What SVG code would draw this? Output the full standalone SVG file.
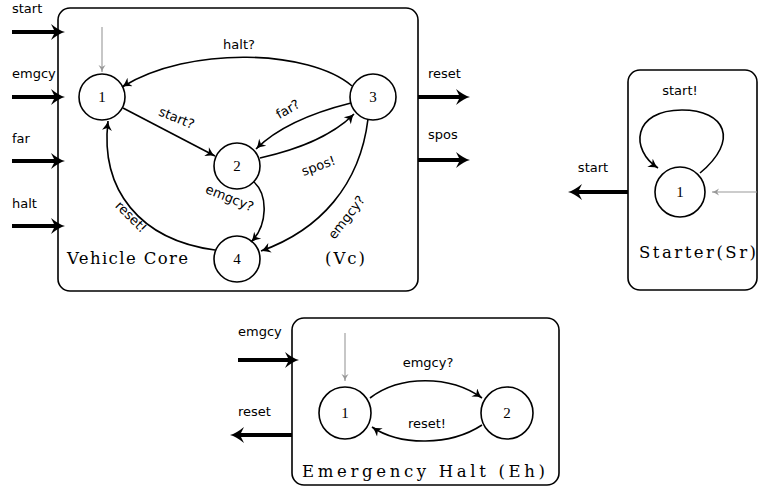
<svg xmlns="http://www.w3.org/2000/svg" width="758" height="488" viewBox="0 0 758 488">
<style>
.box{fill:#fff;stroke:#000;stroke-width:1.6}
.st{fill:#fff;stroke:#000;stroke-width:1.6}
.e{fill:none;stroke:#000;stroke-width:1.6;marker-end:url(#ah)}
.g{fill:none;stroke:#999;stroke-width:1.1;marker-end:url(#ag)}
.io{fill:none;stroke:#000;stroke-width:4;marker-end:url(#at)}
.l{font-family:"DejaVu Sans",sans-serif;font-size:13px;fill:#000}
.n{font-family:"Liberation Serif","DejaVu Serif",serif;font-size:15px;fill:#000;text-anchor:middle}
.t{font-family:"DejaVu Serif","Liberation Serif",serif;font-size:16.5px;fill:#000}
</style>
<defs>
<marker id="ah" viewBox="-10 -5 11 10" refX="0" refY="0" markerWidth="11" markerHeight="10" markerUnits="userSpaceOnUse" orient="auto"><path d="M-9.5,-5 Q-4,-1 0,0 Q-4,1 -9.5,5 L-7,0 Z" fill="#000"/></marker>
<marker id="ag" viewBox="-8 -4 9 8" refX="0" refY="0" markerWidth="9" markerHeight="8" markerUnits="userSpaceOnUse" orient="auto"><path d="M-7,-3.5 Q-3,-0.7 0,0 Q-3,0.7 -7,3.5 L-5,0 Z" fill="#999"/></marker>
<marker id="at" viewBox="-15 -9 16 18" refX="-8" refY="0" markerWidth="16" markerHeight="18" markerUnits="userSpaceOnUse" orient="auto"><path d="M-14,-8 Q-6,-1.5 0,0 Q-6,1.5 -14,8 L-10,0 Z" fill="#000"/></marker>
</defs>

<g id="vc-box">
<rect class="box" x="58" y="8" width="360" height="283" rx="12"/>
<text class="t" x="67" y="264" textLength="121" lengthAdjust="spacing">Vehicle Core</text>
<text class="t" x="325" y="264" textLength="40" lengthAdjust="spacing">(Vc)</text>
</g>
<g id="vc1"><circle class="st" cx="102" cy="97" r="23"/><text class="n" x="102" y="102">1</text></g>
<g id="vc2"><circle class="st" cx="237" cy="166" r="23"/><text class="n" x="237" y="171">2</text></g>
<g id="vc3"><circle class="st" cx="373" cy="97" r="23"/><text class="n" x="373" y="102">3</text></g>
<g id="vc4"><circle class="st" cx="237" cy="259" r="23"/><text class="n" x="237" y="264">4</text></g>

<g id="sr-box">
<rect class="box" x="628" y="70" width="129" height="220" rx="12"/>
<text class="t" x="639" y="258" textLength="117" lengthAdjust="spacing">Starter(Sr)</text>
</g>
<g id="sr1"><circle class="st" cx="680" cy="192" r="25"/><text class="n" x="680" y="197">1</text></g>

<g id="eh-box">
<rect class="box" x="292" y="318" width="267" height="167" rx="12"/>
<text class="t" x="302" y="477" textLength="243" lengthAdjust="spacing">Emergency Halt (Eh)</text>
</g>
<g id="eh1"><circle class="st" cx="345" cy="413" r="26"/><text class="n" x="345" y="418">1</text></g>
<g id="eh2"><circle class="st" cx="507" cy="413" r="26"/><text class="n" x="507" y="418">2</text></g>

<g id="connectors">
<line class="io" x1="12" y1="32" x2="57" y2="32"/>
<line class="io" x1="12" y1="97" x2="57" y2="97"/>
<line class="io" x1="12" y1="161" x2="57" y2="161"/>
<line class="io" x1="12" y1="226" x2="57" y2="226"/>
<line class="io" x1="418" y1="97" x2="462" y2="97"/>
<line class="io" x1="418" y1="160" x2="462" y2="160"/>
<line class="g" x1="102" y1="27" x2="102" y2="72"/>
<path class="e" d="M352,86 C310,50 190,45 122,87"/>
<path class="e" d="M123,108 L215,156"/>
<path class="e" d="M351,103 C315,112 280,125 256,149"/>
<path class="e" d="M260,158 C295,150 330,138 354,114"/>
<path class="e" d="M254,182 C268,195 268,225 251,242"/>
<path class="e" d="M368,119 C360,185 320,230 261,251"/>
<path class="e" d="M215,250 C140,240 100,190 108,121"/>
<line class="g" x1="757" y1="192" x2="712" y2="192"/>
<path class="e" d="M700,173 C740,140 725,110 682,110 C632,110 630,150 658,168"/>
<line class="io" x1="628" y1="192" x2="576" y2="192"/>
<line class="io" x1="238" y1="360" x2="291" y2="360"/>
<line class="io" x1="292" y1="435" x2="238" y2="435"/>
<line class="g" x1="345" y1="333" x2="345" y2="381"/>
<path class="e" d="M370,398 C400,375 450,375 482,398"/>
<path class="e" d="M482,425 C450,446 400,446 372,427"/>
</g>

<g id="labels">
<text class="l" x="12" y="13">start</text>
<text class="l" x="12" y="78">emgcy</text>
<text class="l" x="12" y="143">far</text>
<text class="l" x="12" y="208">halt</text>
<text class="l" x="428" y="78">reset</text>
<text class="l" x="428" y="139">spos</text>
<text class="l" x="239" y="49" text-anchor="middle">halt?</text>
<text class="l" text-anchor="middle" transform="translate(175,122) rotate(22)">start?</text>
<text class="l" text-anchor="middle" transform="translate(290,113) rotate(-30)">far?</text>
<text class="l" text-anchor="middle" transform="translate(320,170) rotate(-20)">spos!</text>
<text class="l" text-anchor="middle" transform="translate(228,202) rotate(22)">emgcy?</text>
<text class="l" text-anchor="middle" transform="translate(350,220) rotate(-52)">emgcy?</text>
<text class="l" text-anchor="middle" transform="translate(128,220) rotate(45)">reset!</text>
<text class="l" x="680" y="95" text-anchor="middle">start!</text>
<text class="l" x="593" y="172" text-anchor="middle">start</text>
<text class="l" x="238" y="336">emgcy</text>
<text class="l" x="238" y="416">reset</text>
<text class="l" x="428" y="367" text-anchor="middle">emgcy?</text>
<text class="l" x="427" y="428" text-anchor="middle">reset!</text>
</g>
</svg>
